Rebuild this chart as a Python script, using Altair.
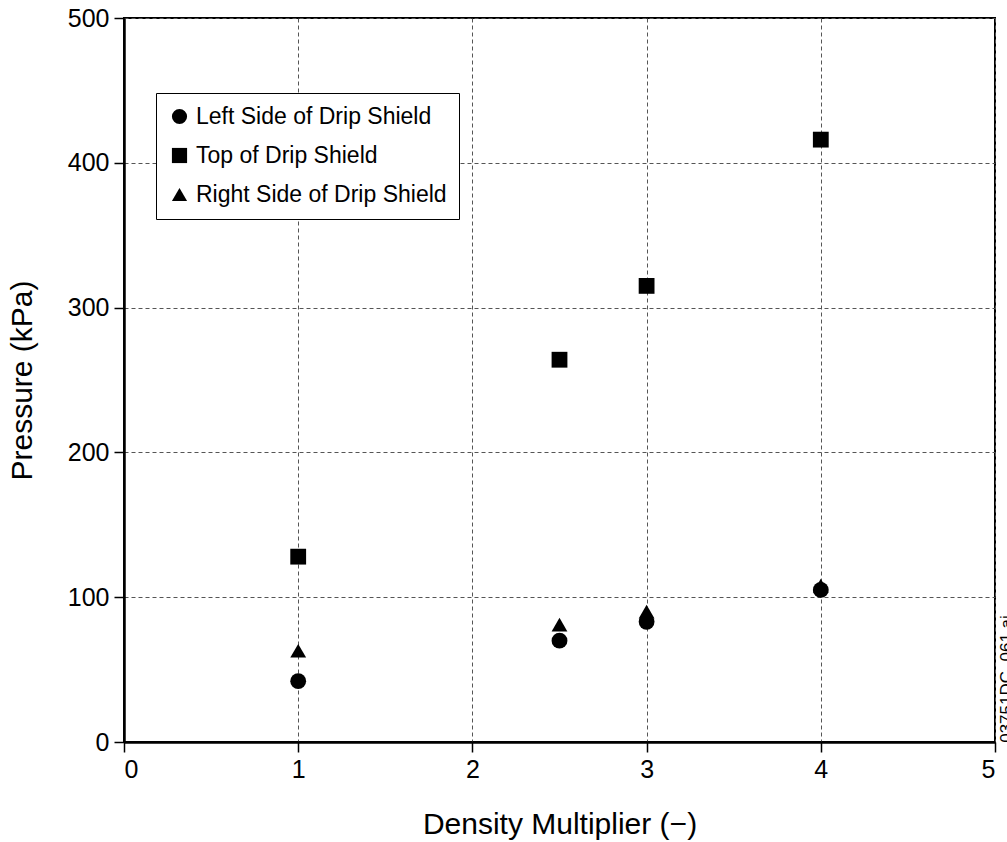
import altair as alt
import pandas as pd

# Data
density = [1, 2.5, 3, 4]
left_side = [42, 70, 83, 105]
top_side = [128, 264, 315, 416]
right_side = [63, 81, 90, 108]

series_names = ["Left Side of Drip Shield", "Top of Drip Shield", "Right Side of Drip Shield"]
series_shapes = ["circle", "square", "triangle-up"]

rows = []
for name, vals in zip(series_names, [left_side, top_side, right_side]):
    for x, y in zip(density, vals):
        rows.append({"x": x, "y": y, "series": name})
df = pd.DataFrame(rows)

FONT = "Liberation Sans"

points = alt.Chart(df).mark_point(filled=True, opacity=1, size=250, color="black").encode(
    x=alt.X("x:Q", scale=alt.Scale(domain=[0, 5], nice=False, zero=False),
            axis=alt.Axis(values=[0, 1, 2, 3, 4, 5], title="Density Multiplier (\u2212)", format="d")),
    y=alt.Y("y:Q", scale=alt.Scale(domain=[0, 500], nice=False),
            axis=alt.Axis(values=[0, 100, 200, 300, 400, 500], title="Pressure (kPa)")),
    shape=alt.Shape("series:N", sort=series_names,
                    scale=alt.Scale(domain=series_names, range=series_shapes),
                    legend=alt.Legend(title=None, orient="none", legendX=32, legendY=75,
                                      strokeColor="black", fillColor="white", padding=12,
                                      symbolFillColor="black", symbolStrokeColor="black",
                                      symbolSize=230, labelFontSize=23, labelFont=FONT,
                                      labelColor="black", rowPadding=15, labelOffset=5,
                                      labelLimit=0, symbolOpacity=1)),
)

note = alt.Chart(pd.DataFrame({"t": ["03751DC_061.ai"]})).mark_text(
    angle=270, align="center", baseline="alphabetic", fontSize=17, font=FONT, color="black"
).encode(text="t:N", x=alt.value(888), y=alt.value(661))

chart = alt.layer(points, note).properties(
    width=871, height=724,
    padding={"left": 124, "top": 18, "right": 12, "bottom": 100},
    autosize=alt.AutoSizeParams(type="none"),
    background="white",
).configure_view(stroke="black", strokeWidth=2).configure_axis(
    domainColor="black", domainWidth=2.5, tickColor="black", tickSize=10, tickWidth=1.5,
    labelFont=FONT, labelFontSize=25, labelColor="black",
    titleFont=FONT, titleFontSize=30, titleColor="black", titleFontWeight="normal",
    grid=True, gridColor="#555555", gridDash=[4, 3], gridWidth=1, gridOpacity=1,
).configure_axisX(labelPadding=5, titlePadding=27).configure_axisY(labelPadding=5, titlePadding=30)

chart.save("out.html", embed_options={"renderer": "svg", "actions": False})
